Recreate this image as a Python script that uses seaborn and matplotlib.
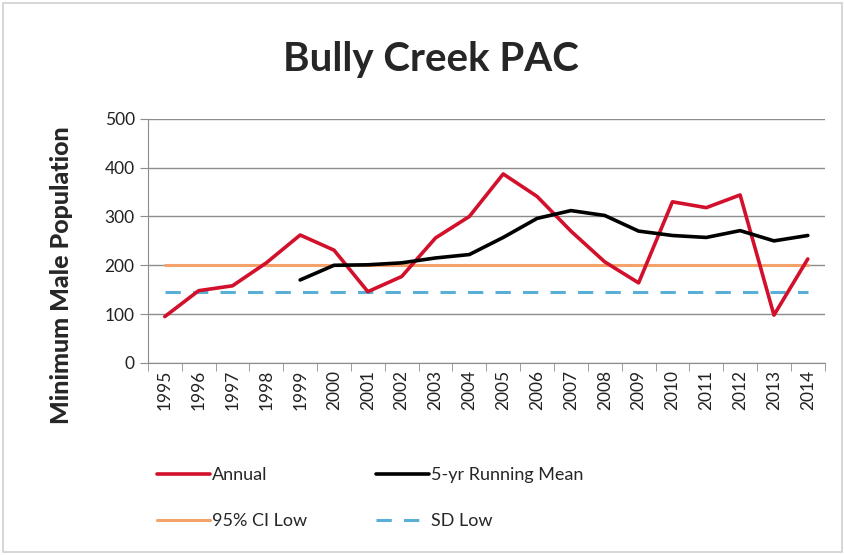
import numpy as np
import pandas as pd
import matplotlib
matplotlib.use("Agg")
import matplotlib.pyplot as plt
from matplotlib.patches import Rectangle
import seaborn as sns

years = list(range(1995, 2015))
annual = [95, 148, 158, 205, 262, 231, 146, 177, 256, 300,
          387, 341, 270, 207, 164, 330, 318, 344, 98, 213]
running_mean = [np.nan, np.nan, np.nan, np.nan, 170, 200, 201, 205, 215, 222,
                257, 296, 312, 302, 270, 261, 257, 271, 250, 261]
ci_low = [200] * len(years)
sd_low = [146] * len(years)

df = pd.DataFrame({"pos": np.arange(len(years)), "year": years,
                   "annual": annual, "mean": running_mean,
                   "ci": ci_low, "sd": sd_low})

sns.set_style("white")
plt.rcParams['font.family'] = ['Lato', 'DejaVu Sans']

fig = plt.figure(figsize=(8.45, 5.55), dpi=100)
ax = fig.add_axes([0.175, 0.346, 0.801, 0.44])

sns.lineplot(data=df, x="pos", y="ci", color="#F5A26A", lw=2.2, label="95% CI Low", ax=ax)
sns.lineplot(data=df, x="pos", y="sd", color="#5AAFD6", lw=2.2, dashes=False, label="SD Low", ax=ax)
ax.lines[-1].set_dashes([5, 4])
sns.lineplot(data=df, x="pos", y="annual", color="#D2102C", lw=2.6, label="Annual", ax=ax)
sns.lineplot(data=df, x="pos", y="mean", color="black", lw=2.6, label="5-yr Running Mean", ax=ax)
for ln in ax.lines:
    ln.set_solid_joinstyle("round")

ax.set_xlim(-0.5, len(years) - 0.5)
ax.set_ylim(0, 500)
ax.set_yticks(range(0, 501, 100))
ax.grid(axis="y", color="#8C8C8C", lw=1)
ax.set_axisbelow(True)
ax.set_xticks(df["pos"])
ax.set_xticklabels(years, rotation=90, fontsize=12.5, color="#222222")
ax.set_xticks(np.arange(-0.5, len(years)), minor=True)
ax.tick_params(axis="x", which="major", length=0, pad=5)
ax.tick_params(axis="x", which="minor", length=6, color="#8C8C8C", direction="out", bottom=True)
ax.tick_params(axis="y", length=6, color="#8C8C8C", direction="out", left=True, labelsize=12.5, labelcolor="#222222")
for s in ["top", "right"]:
    ax.spines[s].set_visible(False)
for s in ["left", "bottom"]:
    ax.spines[s].set_color("#8C8C8C")
ax.set_xlabel("")
ax.set_ylabel("Minimum Male Population", fontsize=18, fontweight="black")
ax.yaxis.set_label_coords(-0.11, 0.36)

fig.text(0.51, 0.893, "Bully Creek PAC", ha="center", va="center", fontsize=29, fontweight="bold")

handles, labels = ax.get_legend_handles_labels()
order = ["Annual", "95% CI Low", "5-yr Running Mean", "SD Low"]
hmap = dict(zip(labels, handles))
ax.legend([hmap[k] for k in order], order, loc="upper left", bbox_to_anchor=(-0.01, -0.36),
          ncol=2, frameon=False, fontsize=13, handlelength=2.9, handletextpad=0.15,
          columnspacing=3.8, labelspacing=1.65)

fig.patches.append(Rectangle((0.004, 0.006), 0.992, 0.988, transform=fig.transFigure,
                             fill=False, edgecolor="#D0D0D0", lw=1.2))

fig.savefig("out.png", dpi=100)
